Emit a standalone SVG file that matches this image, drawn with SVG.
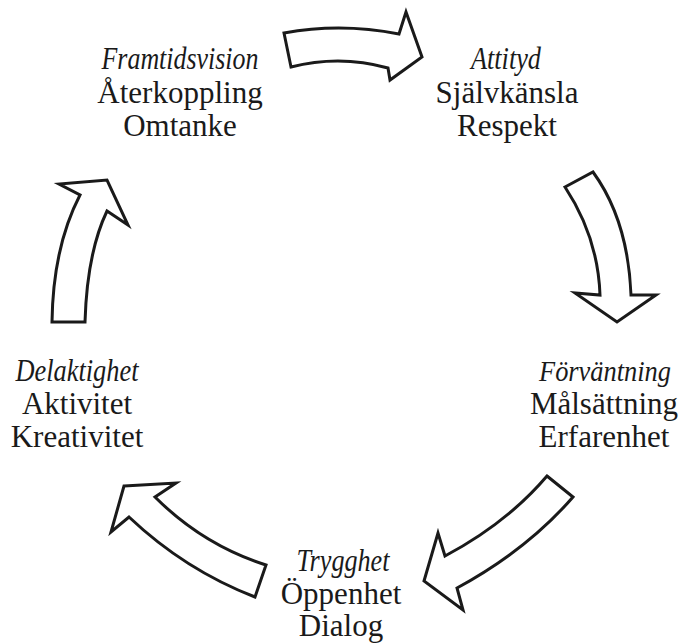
<svg xmlns="http://www.w3.org/2000/svg" width="681" height="643" viewBox="0 0 681 643">
<style>
.bg{fill:#fff}
.arr{fill:#fff;stroke:#1a1a1a;stroke-width:3;stroke-linejoin:miter}
text{font-family:"Liberation Serif","Times New Roman",serif;font-size:31px;fill:#1a1a1a;text-anchor:middle}
.it{font-style:italic}
.sm{font-size:29px}
</style>
<rect class="bg" x="0" y="0" width="681" height="643"/>
<g id="connectors">
<path id="arrow-top" class="arr" d="M284,33 Q341,22.5 399,34 L406,12 L422,57 L390,80 L388,68 Q340,54.5 291,67 Z"/>
<path id="arrow-right" class="arr" d="M565,187 L593,172 Q628,220 631,295 L656,295 L617,322 L575,293 L600,295 Q598,237 565,187 Z"/>
<path id="arrow-bottom-right" class="arr" d="M547,476 L573,497 Q527,550 457,588 L463,610 L424,581 L438,533 L445,556 Q507,523 547,476 Z"/>
<path id="arrow-bottom-left" class="arr" d="M124,486 L176,483 L155,497 Q203,545 266,565 L255,597 Q185,570 129,517 L111,532 Z"/>
<path id="arrow-left" class="arr" d="M52,322 L85,322 Q87,253 107,211 L128,225 L107,180 L59,184 L80,195 Q53,247 52,322 Z"/>
</g>
<g id="node-framtidsvision">
<text class="it" x="180" y="69" textLength="157" lengthAdjust="spacingAndGlyphs">Framtidsvision</text>
<text x="180" y="103">Återkoppling</text>
<text x="180" y="136">Omtanke</text>
</g>
<g id="node-attityd">
<text class="it" x="506" y="69" textLength="70" lengthAdjust="spacingAndGlyphs">Attityd</text>
<text x="507" y="103">Självkänsla</text>
<text x="507" y="136">Respekt</text>
</g>
<g id="node-forvantning">
<text class="it sm" x="605" y="381" textLength="132" lengthAdjust="spacingAndGlyphs">Förväntning</text>
<text x="604" y="414">Målsättning</text>
<text x="604" y="447">Erfarenhet</text>
</g>
<g id="node-trygghet">
<text class="it" x="343" y="571" textLength="93" lengthAdjust="spacingAndGlyphs">Trygghet</text>
<text x="341" y="604">Öppenhet</text>
<text x="341" y="636">Dialog</text>
</g>
<g id="node-delaktighet">
<text class="it" x="77" y="381" textLength="123" lengthAdjust="spacingAndGlyphs">Delaktighet</text>
<text x="77" y="414">Aktivitet</text>
<text x="77" y="447">Kreativitet</text>
</g>
</svg>
